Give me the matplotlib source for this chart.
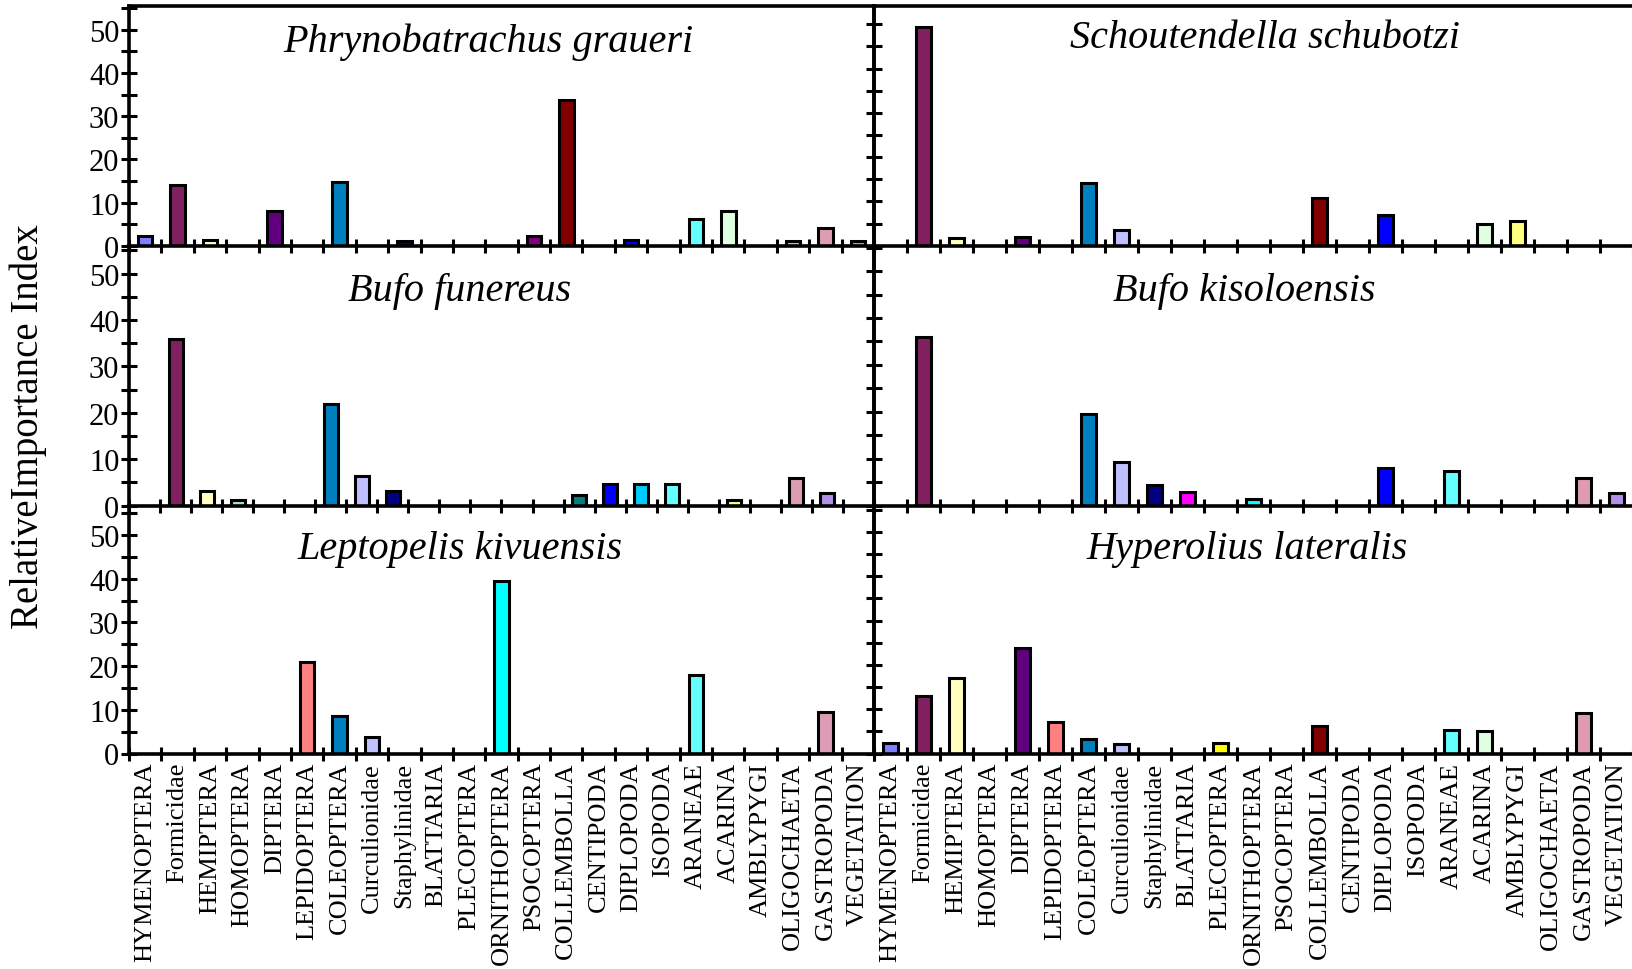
import matplotlib.pyplot as plt
import numpy as np
from matplotlib.ticker import MultipleLocator, FixedLocator

plt.rcParams['font.family'] = ['Liberation Serif', 'DejaVu Serif']

categories = ['HYMENOPTERA', 'Formicidae', 'HEMIPTERA', 'HOMOPTERA', 'DIPTERA',
              'LEPIDOPTERA', 'COLEOPTERA', 'Curculionidae', 'Staphylinidae',
              'BLATTARIA', 'PLECOPTERA', 'ORNITHOPTERA', 'PSOCOPTERA',
              'COLLEMBOLLA', 'CENTIPODA', 'DIPLOPODA', 'ISOPODA', 'ARANEAE',
              'ACARINA', 'AMBLYPYGI', 'OLIGOCHAETA', 'GASTROPODA', 'VEGETATION']

colors = ['#8080FF', '#802060', '#FFFFC0', '#A0E0E0', '#600080', '#FF8080',
          '#0080C0', '#C0C0FF', '#000080', '#FF00FF', '#FFFF00', '#00FFFF',
          '#800080', '#800000', '#008080', '#0000FF', '#00CCFF', '#66FFFF',
          '#E0FFE0', '#FFFF80', '#A6CAF0', '#DD9CB3', '#B090E8']

species = ['Phrynobatrachus graueri', 'Schoutendella schubotzi',
           'Bufo funereus', 'Bufo kisoloensis',
           'Leptopelis kivuensis', 'Hyperolius lateralis']

graueri = [2.3, 14, 1.3, 0, 8, 0, 14.8, 0, 1.1, 0, 0, 0, 2.3, 33.8, 0, 1.3, 0, 6.2, 8, 0, 1.1, 4.2, 1.1]
schubotzi = [0, 49.3, 1.7, 0, 2, 0, 14.2, 3.5, 0, 0, 0, 0, 0, 10.8, 0, 6.9, 0, 0, 5, 5.6, 0, 0, 0]
funereus = [0, 36, 3.1, 1.3, 0, 0, 22, 6.5, 3.1, 0, 0, 0, 0, 0, 2.4, 4.6, 4.6, 4.6, 0, 1.3, 0, 6, 2.7]
kisoloensis = [0, 35.9, 0, 0, 0, 0, 19.6, 9.4, 4.4, 2.9, 0, 1.4, 0, 0, 0, 8, 0, 7.4, 0, 0, 0, 6, 2.8]
kivuensis = [0, 0, 0, 0, 0, 20.9, 8.5, 3.7, 0, 0, 0, 39.4, 0, 0, 0, 0, 0, 18, 0, 0, 0, 9.6, 0]
lateralis = [2.4, 13, 17, 0, 23.8, 7.2, 3.3, 2.2, 0, 0, 2.4, 0, 0, 6.2, 0, 0, 0, 5.4, 5, 0, 0, 9.1, 0]

values = [graueri, schubotzi, funereus, kisoloensis, kivuensis, lateralis]

W, H = 1633, 970
fig = plt.figure(figsize=(W / 100, H / 100), dpi=100)

rows = [(6.7, 246.7), (246.7, 506.7), (506.7, 754.5)]
cols = [(129, 874), (874, 1633)]
ylims = [[55.6, 54.2], [56.0, 55.4], [56.7, 55.9]]
title_pos = [[(488, 42), (1265, 38)], [(460, 292), (1244, 292)], [(460, 549), (1247, 549)]]

n = len(categories)
x = np.arange(n)

for r, (top, bot) in enumerate(rows):
    for c, (left, right) in enumerate(cols):
        k = r * 2 + c
        ax = fig.add_axes([left / W, 1 - bot / H, (right - left) / W, (bot - top) / H])
        ax.set_facecolor('none')
        v = np.array(values[k], dtype=float)
        m = v > 0
        ax.bar(x[m], v[m], width=0.45, color=np.array(colors)[m],
               edgecolor='black', linewidth=2.2, zorder=2)

        # the Bufo funereus panel has one extra empty slot on the right
        nslots = 24 if k == 2 else n
        ax.set_xlim(-0.5, nslots - 0.5)
        ax.set_ylim(0, ylims[r][c])

        for s in ax.spines.values():
            s.set_linewidth(2.6)
            s.set_zorder(5)
        if r > 0:
            ax.spines['top'].set_visible(False)
        if c == 1:
            ax.spines['right'].set_visible(False)

        ax.yaxis.set_major_locator(MultipleLocator(10))
        ax.yaxis.set_minor_locator(MultipleLocator(5))
        ax.tick_params(axis='y', which='both', direction='inout', length=12,
                       width=2.2, left=True, right=False,
                       labelleft=(c == 0), labelsize=22, pad=1)

        ax.xaxis.set_major_locator(FixedLocator(x))
        ax.xaxis.set_minor_locator(FixedLocator(np.arange(-0.5, nslots, 1.0)))
        ax.tick_params(axis='x', which='major', length=0, pad=6)
        ax.tick_params(axis='x', which='minor', direction='inout', length=10,
                       width=2.2, top=False)
        if r == 2:
            ax.set_xticklabels(categories, rotation=90, fontsize=19, va='top')
        else:
            ax.set_xticklabels([])

        tx, ty = title_pos[r][c]
        fig.text(tx / W, 1 - ty / H, species[k], fontsize=29, style='italic',
                 ha='center', va='center')

fig.text(28 / W, 1 - 427 / H, 'RelativeImportance Index', rotation=90,
         fontsize=28, ha='center', va='center')

plt.savefig('out.png', dpi=100)
